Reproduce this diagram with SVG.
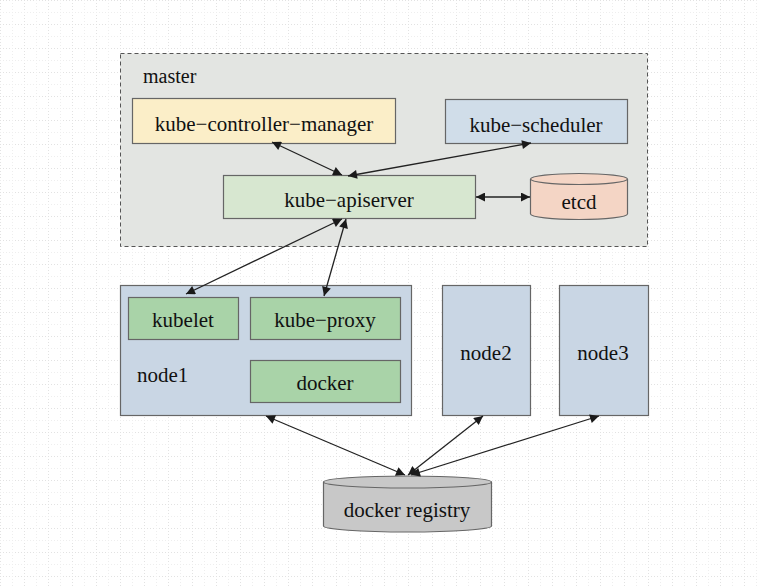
<svg xmlns="http://www.w3.org/2000/svg" width="759" height="588" viewBox="0 0 759 588">
<defs>
<marker id="ah" viewBox="0 0 10 10" refX="10" refY="5" markerWidth="12" markerHeight="9" markerUnits="userSpaceOnUse" orient="auto-start-reverse">
<path d="M0,0 L10,5 L0,10 z" fill="#1a1a1a"/>
</marker>
<pattern id="grid" width="24" height="24" patternUnits="userSpaceOnUse">
<path d="M0,0.5 H24 M0.5,0 V24" stroke="#e2e2e2" stroke-width="1" stroke-dasharray="1,2" fill="none"/>
<path d="M0,12.5 H24 M12.5,0 V24" stroke="#eeeeee" stroke-width="1" stroke-dasharray="1,2" fill="none"/>
</pattern>
</defs>
<rect width="759" height="588" fill="#ffffff"/>
<rect width="759" height="588" fill="url(#grid)"/>

<g font-family="'Liberation Serif'" font-size="21" fill="#111">
<g id="master">
<rect x="120.5" y="53.5" width="527" height="193" fill="#e3e5e2" stroke="#555" stroke-width="1" stroke-dasharray="4,3"/>
<text x="143" y="83" font-size="20">master</text>
</g>
<g stroke="#666" stroke-width="1.2">
<g id="kube-controller-manager">
<rect x="132.5" y="98.5" width="263" height="45" fill="#fbeec8"/>
<text x="264" y="131" text-anchor="middle" stroke="none">kube−controller−manager</text>
</g>
<g id="kube-scheduler">
<rect x="445.5" y="99.5" width="182" height="44" fill="#d0dde9"/>
<text x="536" y="132" text-anchor="middle" stroke="none">kube−scheduler</text>
</g>
<g id="kube-apiserver">
<rect x="223.5" y="175.5" width="252" height="43" fill="#d7e7d0"/>
<text x="349" y="207" text-anchor="middle" stroke="none">kube−apiserver</text>
</g>
<g id="etcd">
<path d="M530.5,179 A48.5,5.5 0 0 1 627.5,179 V214 A48.5,5.5 0 0 1 530.5,214 Z" fill="#f4d5c5"/>
<path d="M530.5,179 A48.5,5.5 0 0 0 627.5,179" fill="none"/>
<text x="579" y="209" text-anchor="middle" stroke="none">etcd</text>
</g>
<g id="node1">
<rect x="120.5" y="285.5" width="291" height="130" fill="#c9d6e4"/>
<text x="137" y="382" stroke="none">node1</text>
</g>
<g id="kubelet">
<rect x="128.5" y="297.5" width="110" height="42" fill="#a9d3a8"/>
<text x="183" y="327" text-anchor="middle" stroke="none">kubelet</text>
</g>
<g id="kube-proxy">
<rect x="250.5" y="297.5" width="150" height="42" fill="#a9d3a8"/>
<text x="325" y="327" text-anchor="middle" stroke="none">kube−proxy</text>
</g>
<g id="docker">
<rect x="250.5" y="360.5" width="150" height="42" fill="#a9d3a8"/>
<text x="325" y="390" text-anchor="middle" stroke="none">docker</text>
</g>
<g id="node2">
<rect x="442.5" y="285.5" width="88" height="130" fill="#c9d6e4"/>
<text x="486" y="360" text-anchor="middle" stroke="none">node2</text>
</g>
<g id="node3">
<rect x="559.5" y="285.5" width="89" height="130" fill="#c9d6e4"/>
<text x="603" y="360" text-anchor="middle" stroke="none">node3</text>
</g>
<g id="docker-registry">
<path d="M323.5,482 A84,6 0 0 1 491.5,482 V526 A84,6 0 0 1 323.5,526 Z" fill="#c8c8c8"/>
<path d="M323.5,482 A84,6 0 0 0 491.5,482" fill="none"/>
<text x="407" y="517" text-anchor="middle" stroke="none">docker registry</text>
</g>
</g>
</g>

<g id="connectors" stroke="#222" stroke-width="1.3" fill="none" marker-start="url(#ah)" marker-end="url(#ah)">
<line x1="272" y1="142" x2="342" y2="175"/>
<line x1="531" y1="143" x2="348" y2="176"/>
<line x1="476" y1="197" x2="530" y2="197"/>
<line x1="342" y1="219" x2="186" y2="294"/>
<line x1="346" y1="219" x2="324" y2="296"/>
<line x1="266" y1="416" x2="405" y2="475"/>
<line x1="483" y1="416" x2="408" y2="475"/>
<line x1="599" y1="416" x2="411" y2="475"/>
</g>
</svg>
